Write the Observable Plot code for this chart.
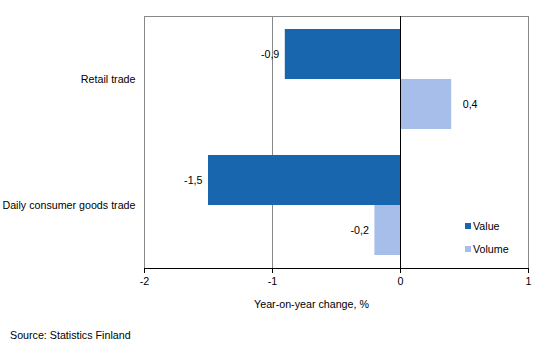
<!DOCTYPE html>
<html>
<head>
<meta charset="utf-8">
<script src="https://cdn.jsdelivr.net/npm/d3@7"></script>
<script src="https://cdn.jsdelivr.net/npm/@observablehq/plot@0.6"></script>
<style>
  html, body { margin: 0; padding: 0; background: #fff; }
  body { font-family: "Liberation Sans", Arial, sans-serif; font-size: 10.7px; color: #000; }
  #wrap { position: relative; width: 539px; }
  #wrap svg { display: block; }
  #legend { position: absolute; left: 465px; top: 214px; }
  .item { display: flex; align-items: center; height: 23px; }
  .sw { width: 6px; height: 6px; margin-right: 2px; }
  #source { margin: 6px 0 0 10px; line-height: 14px; }
</style>
</head>
<body>
<div id="wrap"><div id="legend"></div></div>
<div id="source">Source: Statistics Finland</div>
<script>
const categories = ["Retail trade", "Daily consumer goods trade"];
const series = ["Value", "Volume"];
const valueChange = [-0.9, -1.5];
const volumeChange = [0.4, -0.2];
const xTicks = [-2, -1, 0, 1];
const seriesColors = ["#1866AE", "#A7BEEA"];
const xLabel = "Year-on-year change, %";

const data = categories.flatMap((c, i) => [
  {category: c, series: series[0], value: valueChange[i]},
  {category: c, series: series[1], value: volumeChange[i]}
]);
const fmt = v => String(v).replace(".", ",");

const chart = Plot.plot({
  width: 539,
  height: 322,
  marginTop: 15,
  marginBottom: 54,
  marginLeft: 144,
  marginRight: 11,
  style: {fontFamily: "Liberation Sans, Arial, sans-serif", fontSize: "10.7px", color: "#000", background: "#fff"},
  x: {domain: [-2, 1]},
  y: {domain: series, paddingInner: 0, paddingOuter: 0.25, axis: null},
  fy: {domain: categories, padding: 0, axis: "left", label: null, tickSize: 0, tickPadding: 9},
  color: {domain: series, range: seriesColors},
  marks: [
    Plot.frame({facet: "super", stroke: "#888"}),
    Plot.ruleX([-1], {stroke: "#888"}),
    Plot.barX(data, {x: "value", y: "series", fy: "category", fill: "series"}),
    Plot.ruleX([0], {stroke: "#000"}),
    Plot.frame({facet: "super", anchor: "bottom", stroke: "#000"}),
    Plot.axisX({ticks: xTicks, tickSize: 5, tickFormat: d => String(d), label: null, stroke: "#000"}),
    Plot.text(data.filter(d => d.value < 0), {x: "value", y: "series", fy: "category", text: d => fmt(d.value), textAnchor: "end", dx: -6, fill: "#000"}),
    Plot.text(data.filter(d => d.value >= 0), {x: "value", y: "series", fy: "category", text: d => fmt(d.value), textAnchor: "start", dx: 11, fill: "#000"}),
    Plot.text([xLabel], {facet: "super", frameAnchor: "bottom", text: d => d, dy: 39, dx: -25, fill: "#000"})
  ]
});
const wrap = document.getElementById("wrap");
wrap.insertBefore(chart, wrap.firstChild);

const legend = document.getElementById("legend");
series.forEach((s, i) => {
  const item = document.createElement("div");
  item.className = "item";
  const sw = document.createElement("span");
  sw.className = "sw";
  sw.style.background = seriesColors[i];
  const t = document.createElement("span");
  t.textContent = s;
  item.appendChild(sw);
  item.appendChild(t);
  legend.appendChild(item);
});
</script>
</body>
</html>
